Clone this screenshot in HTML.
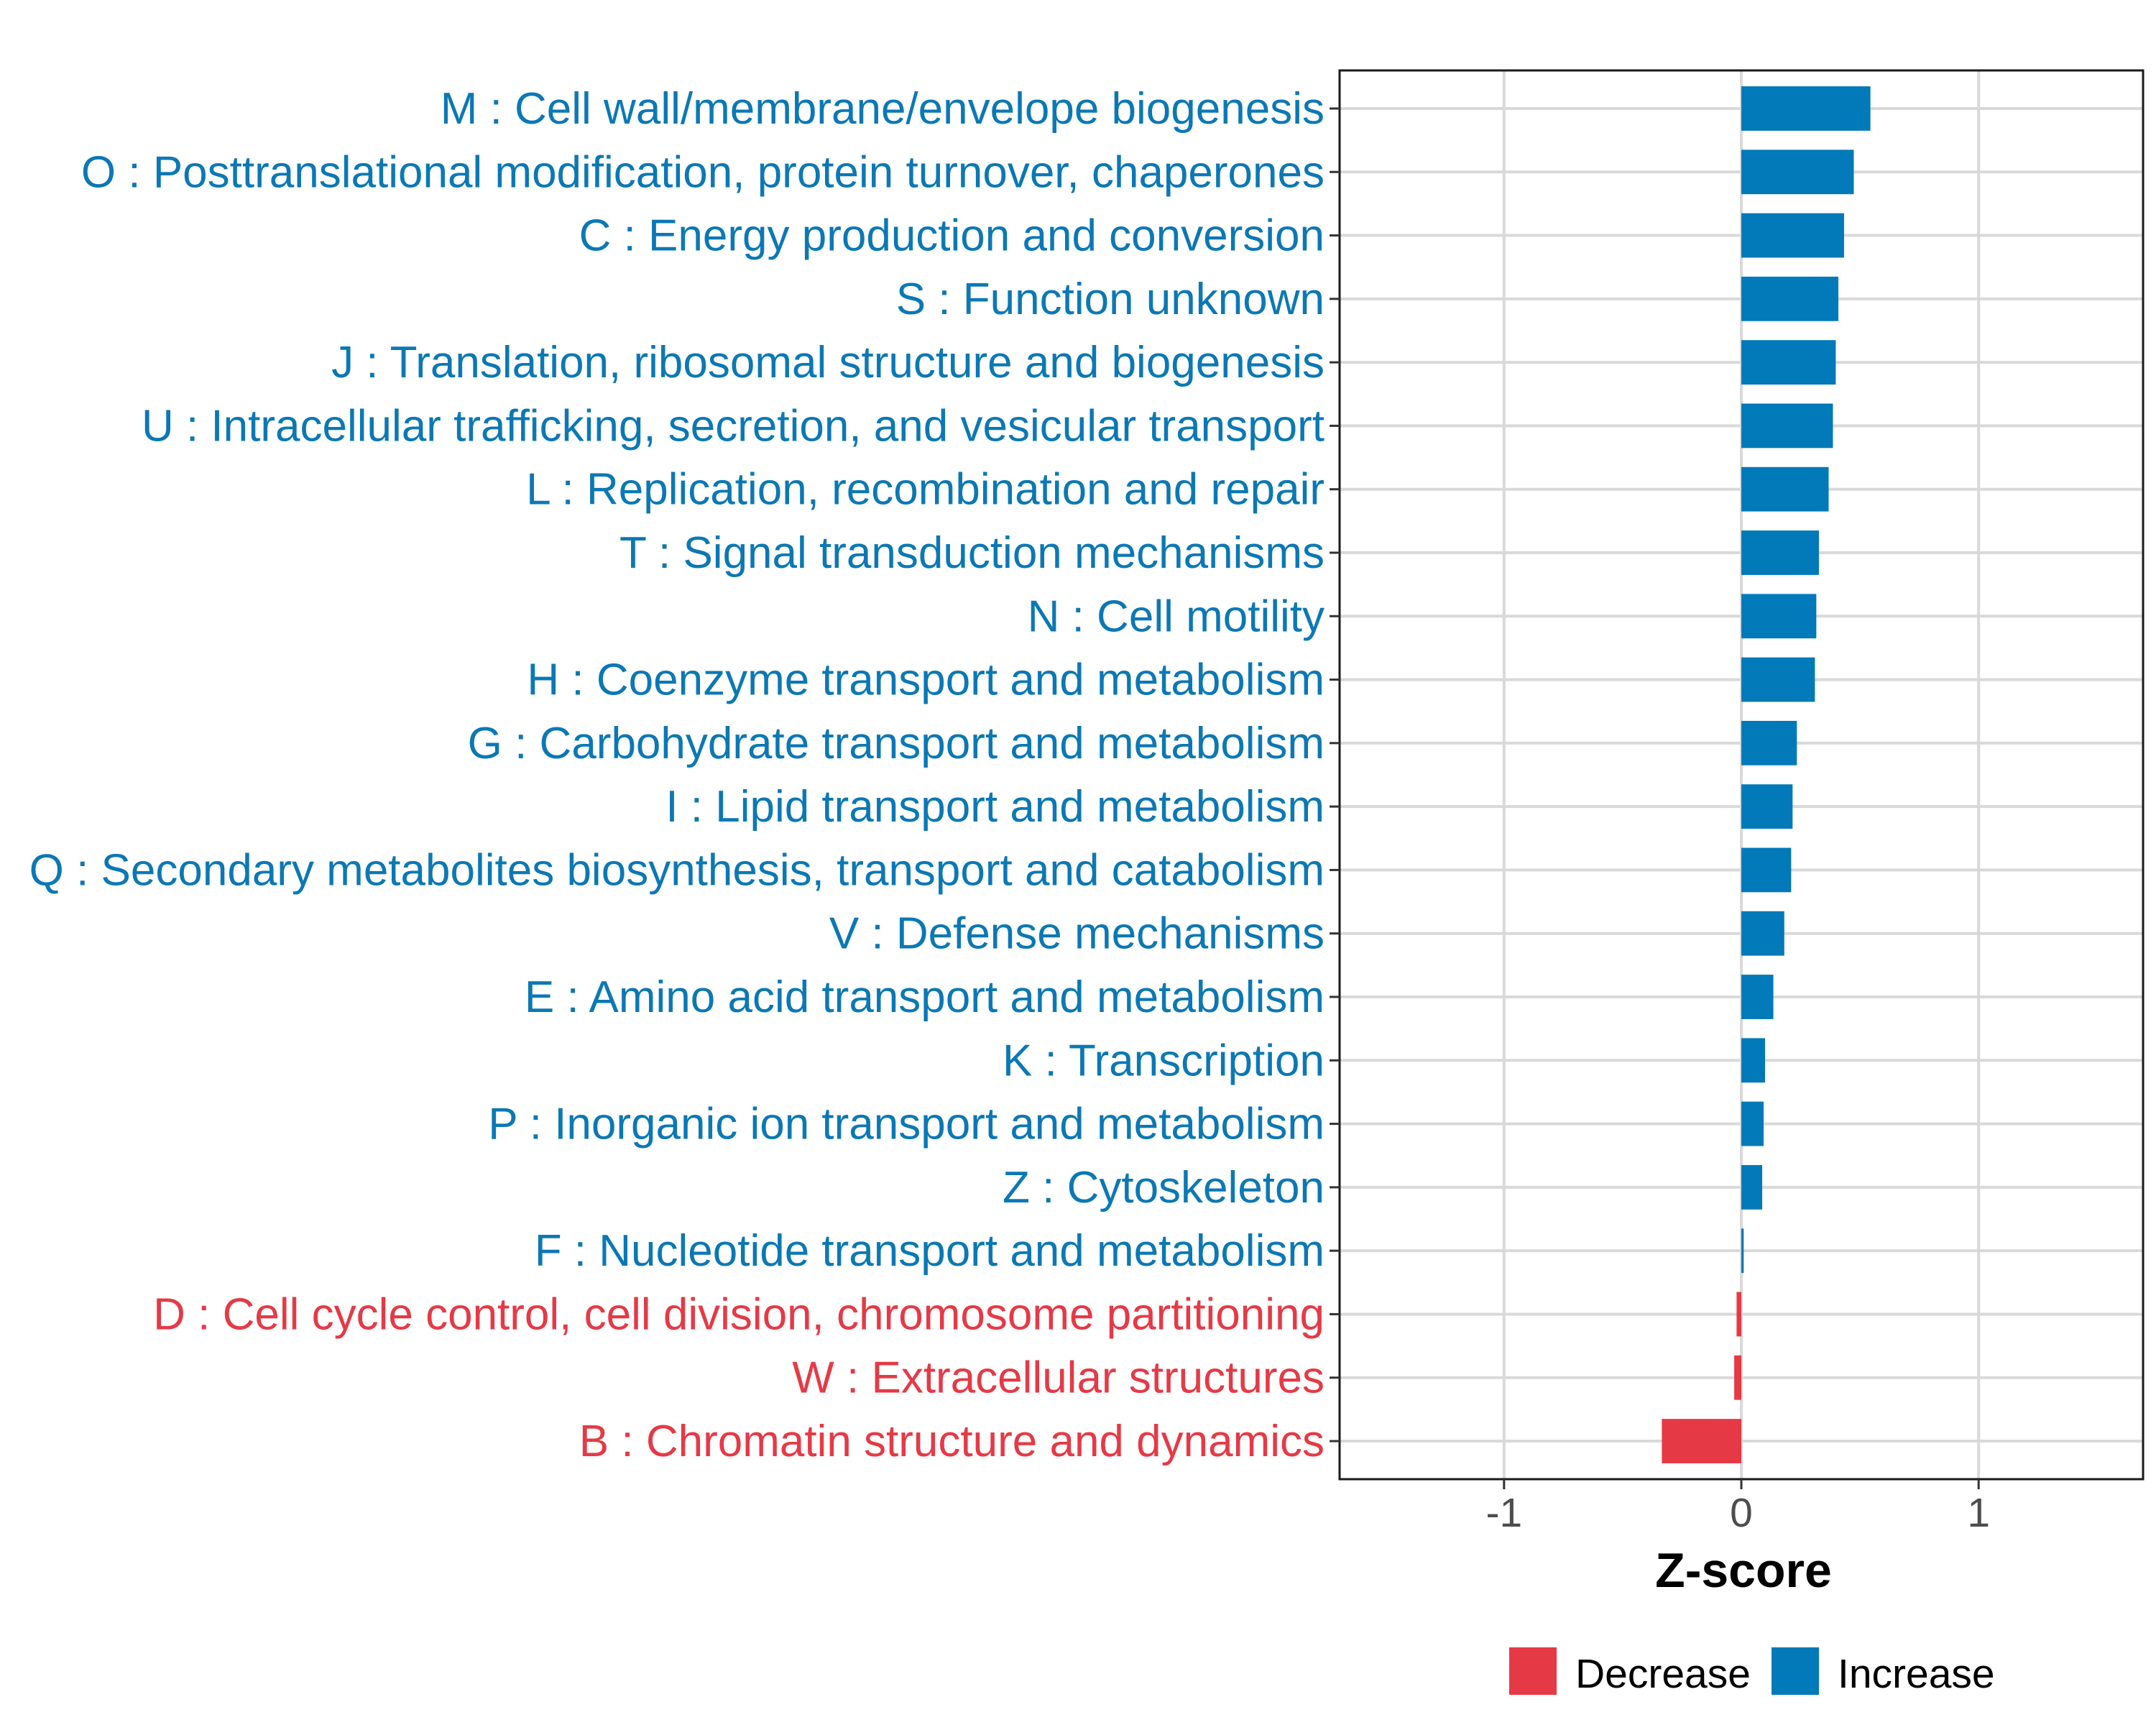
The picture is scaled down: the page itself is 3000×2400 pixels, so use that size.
<!DOCTYPE html>
<html><head><meta charset="utf-8"><style>
html,body{margin:0;padding:0;background:#fff}
svg{display:block}
text{font-family:"Liberation Sans",Arial,sans-serif}
</style></head><body>
<svg id="chart" width="3000" height="2400" viewBox="0 0 3000 2400" xmlns="http://www.w3.org/2000/svg">
<rect width="3000" height="2400" fill="#fff"/>
<g id="grid"></g>
<g id="bars"></g>
<rect id="panel" fill="none" stroke="#1a1a1a" stroke-width="3"/>
<g id="ylabels"></g>
<g id="xaxis"></g>
<text x="2426" y="2208" text-anchor="middle" font-size="68" font-weight="bold" fill="#000">Z-score</text>
<g>
<rect x="2100" y="2292" width="66" height="66" fill="#e63946"/>
<text x="2192" y="2348" font-size="57" fill="#000">Decrease</text>
<rect x="2465" y="2292" width="66" height="66" fill="#0279b8"/>
<text x="2557" y="2348" font-size="57" fill="#000">Increase</text>
</g>
</svg>
<script>
const categories = [
"M : Cell wall/membrane/envelope biogenesis",
"O : Posttranslational modification, protein turnover, chaperones",
"C : Energy production and conversion",
"S : Function unknown",
"J : Translation, ribosomal structure and biogenesis",
"U : Intracellular trafficking, secretion, and vesicular transport",
"L : Replication, recombination and repair",
"T : Signal transduction mechanisms",
"N : Cell motility",
"H : Coenzyme transport and metabolism",
"G : Carbohydrate transport and metabolism",
"I : Lipid transport and metabolism",
"Q : Secondary metabolites biosynthesis, transport and catabolism",
"V : Defense mechanisms",
"E : Amino acid transport and metabolism",
"K : Transcription",
"P : Inorganic ion transport and metabolism",
"Z : Cytoskeleton",
"F : Nucleotide transport and metabolism",
"D : Cell cycle control, cell division, chromosome partitioning",
"W : Extracellular structures",
"B : Chromatin structure and dynamics"];
const zscores = [0.544,0.474,0.433,0.409,0.398,0.386,0.368,0.327,0.316,0.31,0.234,0.216,0.21,0.181,0.135,0.1,0.094,0.088,0.01,-0.02,-0.03,-0.335];
const xTicks = [-1,0,1];
const xTickLabels = ["-1","0","1"];

const NS="http://www.w3.org/2000/svg";
const L=1864,R=2982,T=98,B=2058;
const xmin=-1.693,xmax=1.693;
const n=categories.length;
const step=(B-T)/(n-1+1.2);
function xs(v){return L+(v-xmin)/(xmax-xmin)*(R-L);}
function ys(i){return T+step*0.6+i*step;}
function mk(tag,attrs,parent){const e=document.createElementNS(NS,tag);for(const k in attrs)e.setAttribute(k,attrs[k]);parent.appendChild(e);return e;}
const grid=document.getElementById('grid'),bars=document.getElementById('bars'),yl=document.getElementById('ylabels'),xa=document.getElementById('xaxis');
const p=document.getElementById('panel');
p.setAttribute('x',L);p.setAttribute('y',T);p.setAttribute('width',R-L);p.setAttribute('height',B-T);
xTicks.forEach((t,i)=>{
  const g=mk('line',{x1:xs(t),x2:xs(t),y1:T,y2:B,stroke:'#d9d9d9','stroke-width':4},grid);
  
  
  const tk=mk('line',{x1:xs(t),x2:xs(t),y1:B,y2:B+14,stroke:'#333','stroke-width':3},xa);
  
  
  const tx=mk('text',{x:xs(t),y:B+66,'text-anchor':'middle','font-size':57,fill:'#4d4d4d'},xa);
  tx.textContent=xTickLabels[i];
  
  
});
categories.forEach((c,i)=>{
  const y=ys(i),v=zscores[i];
  const col=v<0?'#e63946':'#0279b8';
  const gl=mk('line',{x1:L,x2:R,y1:y,y2:y,stroke:'#d9d9d9','stroke-width':4},grid);
  
  
  const bh=step*0.7;
  const x0=xs(0),x1=xs(v);
  const b=mk('rect',{x:Math.min(x0,x1),y:y-bh/2,width:Math.max(Math.abs(x1-x0),3),height:bh,fill:col},bars);
  
  
  const tk=mk('line',{x1:L-14,x2:L,y1:y,y2:y,stroke:'#333','stroke-width':3},yl);
  
  
  const t=mk('text',{x:L-21,y:y+21,'text-anchor':'end','font-size':62,fill:v<0?'#e63946':'#0b78b5'},yl);
  t.textContent=c;
  
  
});
</script>
</body></html>
